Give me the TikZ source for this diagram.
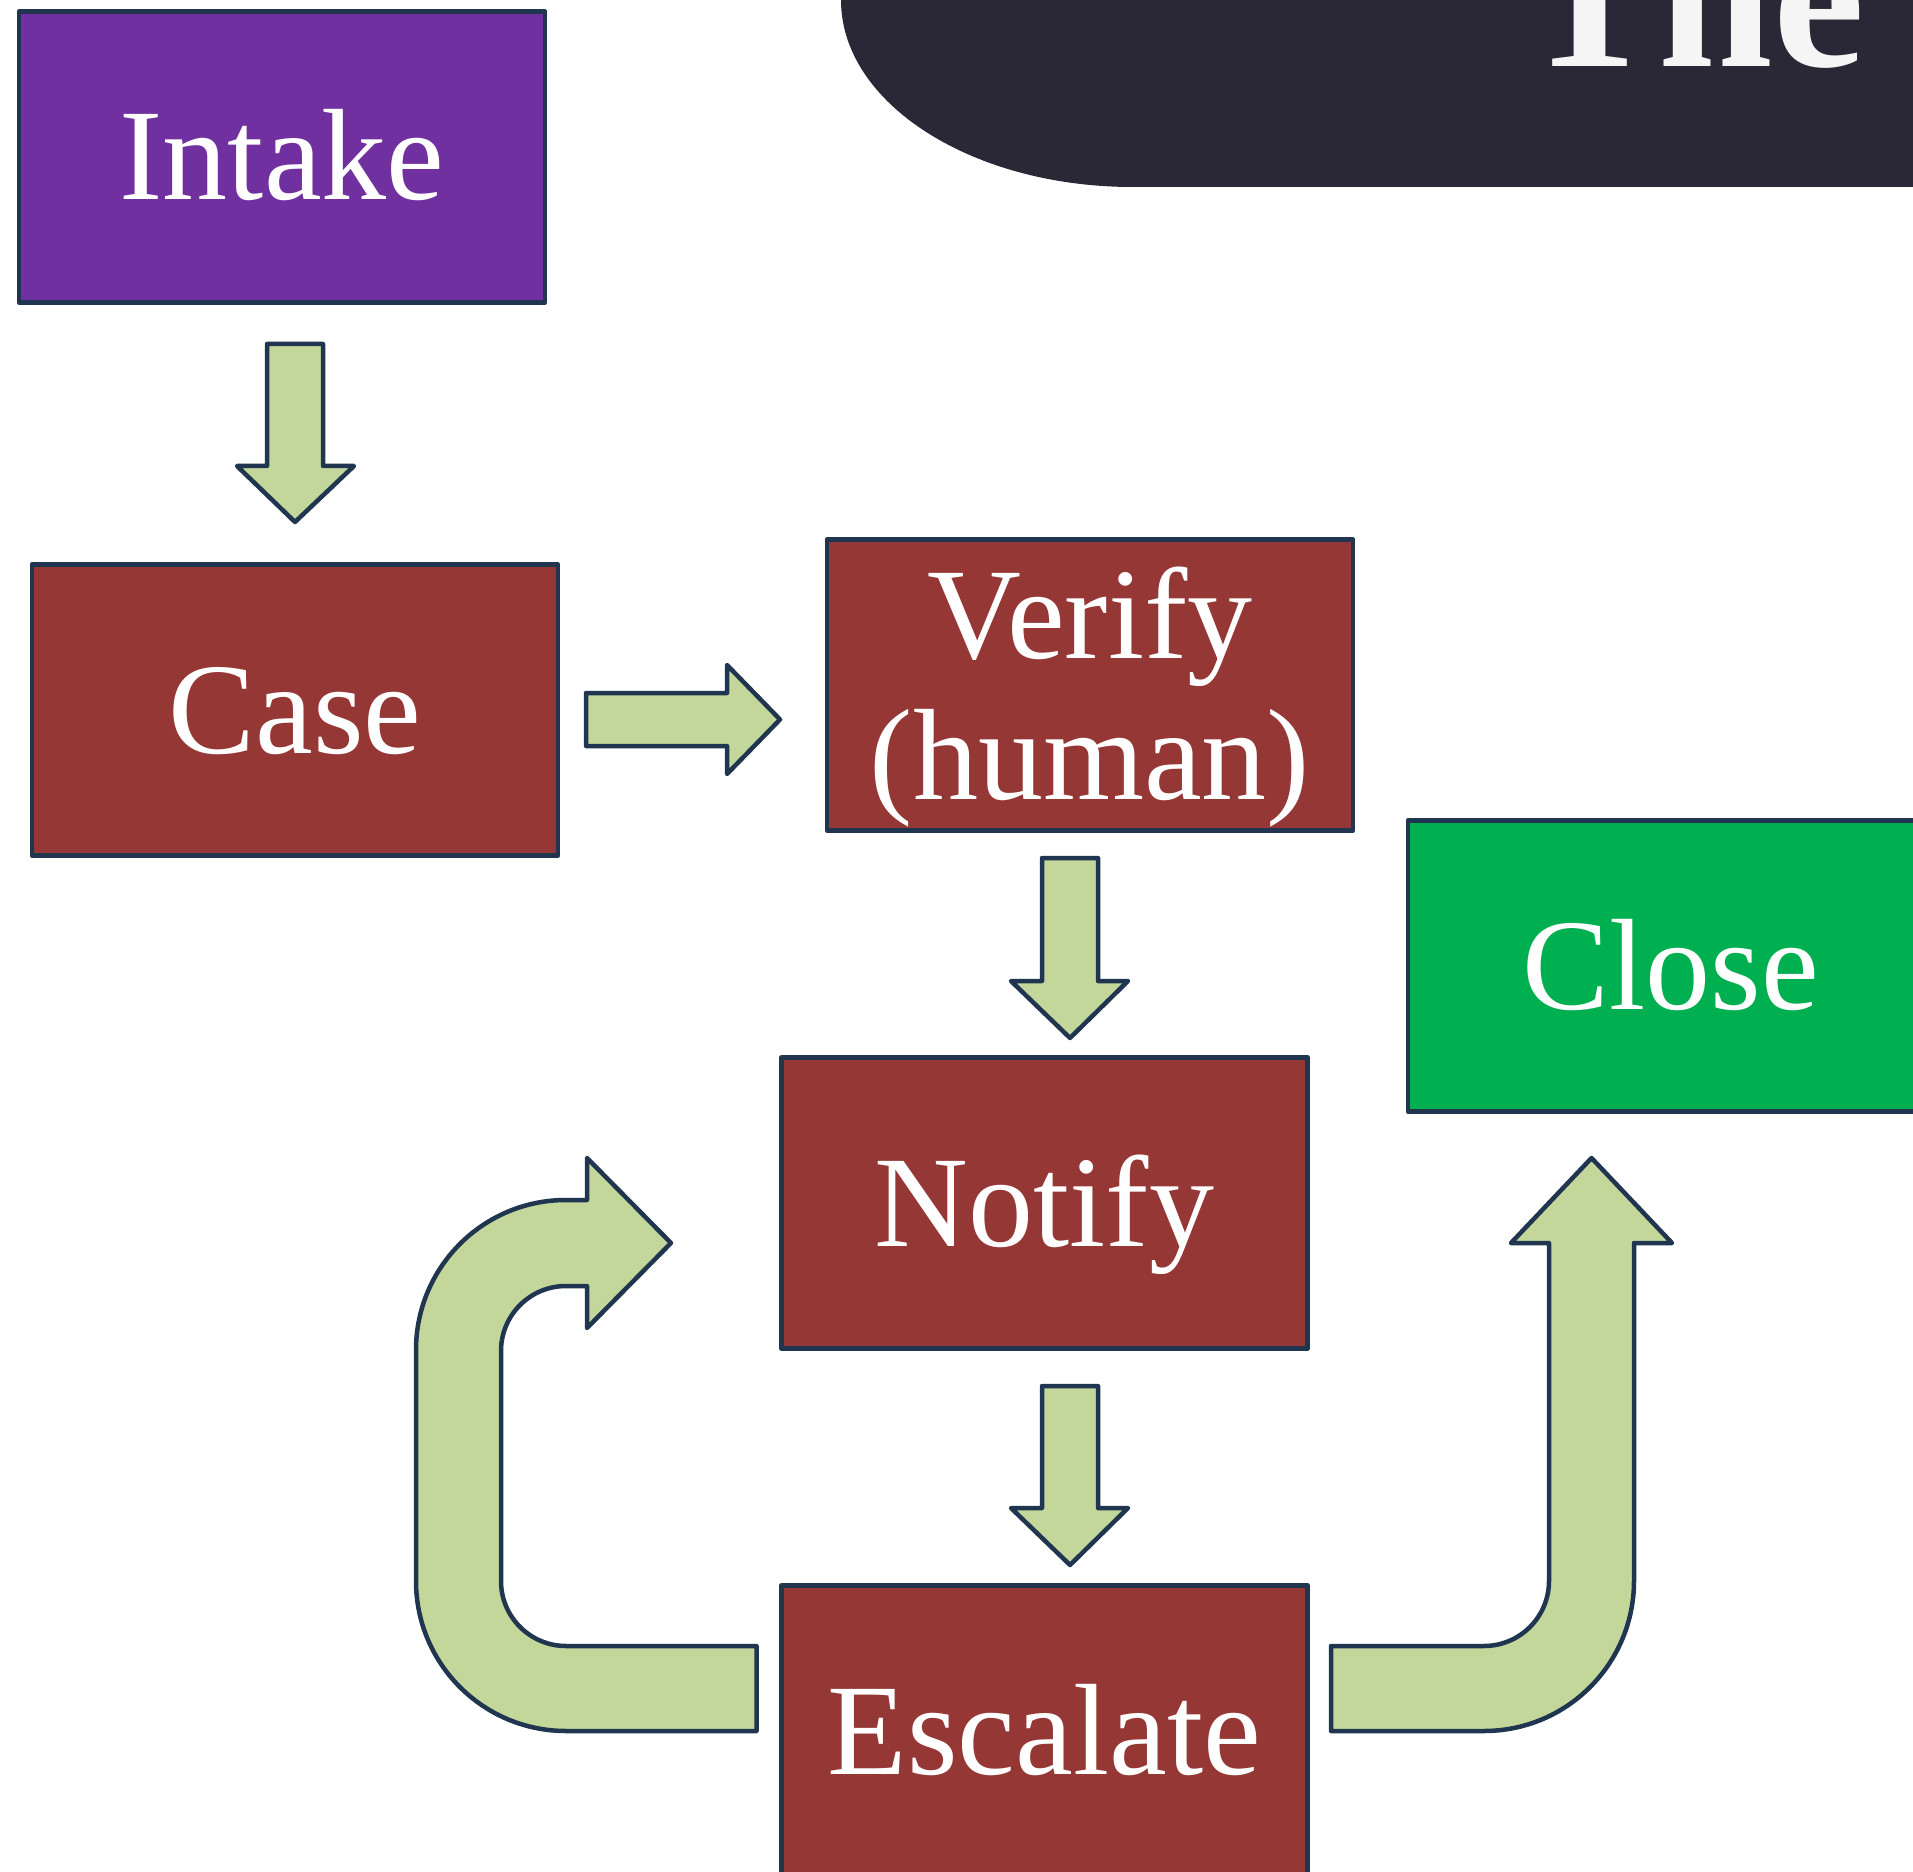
\documentclass[tikz,border=0pt]{standalone}
\usepackage{fontspec}
\setmainfont{Liberation Serif}
\definecolor{bpurple}{HTML}{7030A0}
\definecolor{bred}{HTML}{953735}
\definecolor{bgreen}{HTML}{00B050}
\definecolor{afill}{HTML}{C4D79B}
\definecolor{edge}{HTML}{1F3550}
\definecolor{banner}{HTML}{2A2836}
\definecolor{titlecol}{HTML}{F5F5F5}
\tikzset{
  box/.style={draw=edge, line width=2.25pt, line join=round, minimum width=263pt, minimum height=145.5pt, inner sep=0pt, outer sep=0pt},
  lbl/.style={anchor=base, text=white, font=\fontsize{65}{70}\selectfont, inner sep=0pt},
  blockarrow/.style={draw=edge, fill=afill, line width=2.25pt, line join=round}
}
\begin{document}
\begin{tikzpicture}[x=0.5pt, y=-0.5pt]
\useasboundingbox (0,0) rectangle (1913,1872);
\fill[white] (0,0) rectangle (1913,1872);
\clip (0,0) rectangle (1913,1872);
% banner
\fill[banner] (841,-20) -- (841,0) arc[start angle=180, end angle=90, x radius=292, y radius=187] -- (1930,187) -- (1930,-20) -- cycle;
\node[anchor=base west, inner sep=0pt, text=titlecol, font=\fontsize{103}{110}\selectfont\bfseries] (title) at (1521,67) {The};
% boxes
\node[box, fill=bpurple] (intake) at (282,157) {};
\node[box, fill=bred] (case) at (295,710) {};
\node[box, fill=bred] (verify) at (1090,685) {};
\node[box, fill=bgreen] (close) at (1671,966) {};
\node[box, fill=bred] (notify) at (1044.5,1203) {};
\node[box, fill=bred] (escalate) at (1044.5,1731) {};
% labels
\node[lbl] (intakelbl) at ([yshift=-21.5pt]intake.center) {Intake};
\node[lbl] (caselbl) at ([yshift=-21.5pt]case.center) {Case};
\node[lbl] (verifylblA) at (1090,659) {Verify};
\node[lbl] (verifylblB) at (1090,799) {(human)};
\node[lbl] (closelbl) at ([yshift=-21.5pt]close.center) {Close};
\node[lbl] (notifylbl) at ([yshift=-21.5pt]notify.center) {Notify};
\node[lbl] (escalatelbl) at ([yshift=-21.5pt]escalate.center) {Escalate};
% straight block arrows
\draw[blockarrow] (267,344) -- (323,344) -- (323,466) -- (354,466) -- (295,522) -- (237,466) -- (267,466) -- cycle;
\draw[blockarrow] (586,693) -- (727,693) -- (727,665) -- (780,719.5) -- (727,774) -- (727,746) -- (586,746) -- cycle;
\draw[blockarrow] (1042,858) -- (1098,858) -- (1098,981) -- (1128,981) -- (1070,1038) -- (1011,981) -- (1042,981) -- cycle;
\draw[blockarrow] (1042,1386) -- (1098,1386) -- (1098,1508) -- (1128,1508) -- (1070,1565) -- (1011,1508) -- (1042,1508) -- cycle;
% U-turn arrow back to Notify
\draw[blockarrow] (756.5,1731) -- (566,1731) arc[start angle=90, end angle=180, radius=150]
  -- (416,1350) arc[start angle=180, end angle=270, radius=150]
  -- (587,1200) -- (587,1158) -- (671,1243) -- (587,1328) -- (587,1286) -- (566,1286)
  arc[start angle=270, end angle=180, radius=65]
  -- (501,1581) arc[start angle=180, end angle=90, radius=65]
  -- (756.5,1646) -- cycle;
% J arrow to Close
\draw[blockarrow] (1331,1646) -- (1484,1646) arc[start angle=90, end angle=0, radius=65]
  -- (1549,1243) -- (1511,1243) -- (1591.5,1158) -- (1672,1243) -- (1634,1243)
  -- (1634,1581) arc[start angle=0, end angle=90, radius=150]
  -- (1331,1731) -- cycle;
\end{tikzpicture}
\end{document}
